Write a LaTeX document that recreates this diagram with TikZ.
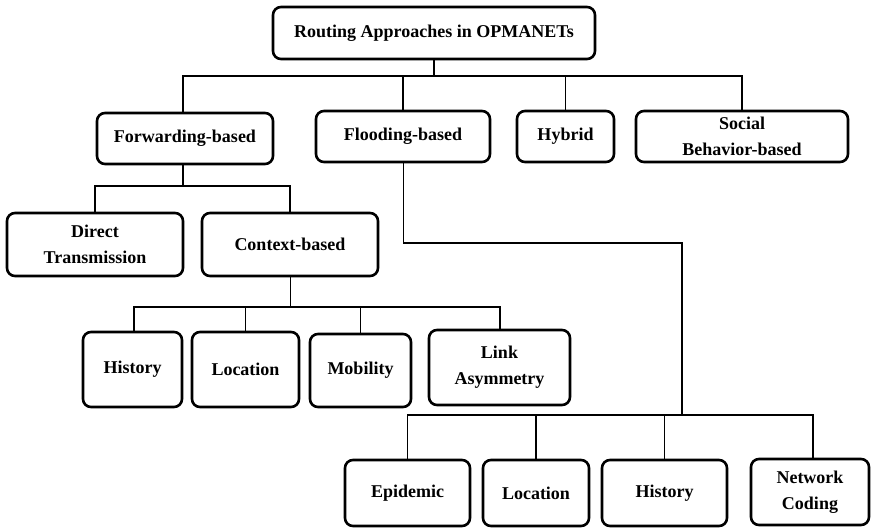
\documentclass[tikz,border=0pt]{standalone}
\usepackage{fontspec}
\setmainfont{Liberation Serif}
\begin{document}
\begin{tikzpicture}[x=1pt,y=-1pt,
  box/.style={draw, line width=2.6pt, rounded corners=8pt, align=center,
    inner sep=0pt, font=\bfseries\fontsize{18}{26}\selectfont},
  link/.style={line width=1.8pt},
  thinlink/.style={line width=1pt}]
\useasboundingbox (0,0) rectangle (871,528);

% level 0
\node[box, minimum width=322pt, minimum height=52pt] (root) at (434,33) {Routing Approaches in OPMANETs};

% level 1
\node[box, minimum width=176pt, minimum height=51pt] (fwd)    at (185,138.5) {Forwarding-based};
\node[box, minimum width=174pt, minimum height=51pt] (flood)  at (403,136.5) {Flooding-based};
\node[box, minimum width=97pt,  minimum height=51pt] (hybrid) at (565.5,136.5) {Hybrid};
\node[box, minimum width=212pt, minimum height=51pt] (social) at (742,136.5) {Social\\Behavior-based};

% forwarding children
\node[box, minimum width=176pt, minimum height=63pt] (direct)  at (95,244.5) {Direct\\Transmission};
\node[box, minimum width=176pt, minimum height=63pt] (context) at (290,244.5) {Context-based};

% context children
\node[box, minimum width=99pt,  minimum height=75pt] (hist1) at (132.5,369.5) {History};
\node[box, minimum width=107pt, minimum height=75pt] (loc1)  at (245.5,369.5) {Location};
\node[box, minimum width=101pt, minimum height=73pt] (mob)   at (360.5,370.5) {Mobility};
\node[box, minimum width=141pt, minimum height=75pt] (lasym) at (499.5,367.5) {Link\\Asymmetry};

% flooding children
\node[box, minimum width=125pt, minimum height=66pt] (epi)   at (407.5,493) {Epidemic};
\node[box, minimum width=106pt, minimum height=66pt] (loc2)  at (536,493) {Location};
\node[box, minimum width=125pt, minimum height=66pt] (hist2) at (664.5,493) {History};
\node[box, minimum width=118pt, minimum height=66pt] (net)   at (810,492) {Network\\Coding};

% junction levels
\coordinate (bar0) at (0,76);
\coordinate (bar1) at (0,186);
\coordinate (bar2) at (0,307);
\coordinate (bend) at (682,243);
\coordinate (bar3) at (0,415);

% root -> level 1
\draw[link] (root.south) -- (root.south |- bar0);
\draw[link] (183,0 |- fwd.north) -- (183,76) -- (social.north |- bar0) -- (social.north);
\draw[link] (flood.north) -- (flood.north |- bar0);
\draw[link] (hybrid.north) -- (hybrid.north |- bar0);

% forwarding -> children
\draw[link] (183,0 |- fwd.south) -- (183,186);
\draw[link] (direct.north) -- (direct.north |- bar1) -- (context.north |- bar1) -- (context.north);

% context -> children
\draw[thinlink] (context.south) -- (context.south |- bar2);
\draw[link] (134,0 |- hist1.north) -- (134,307) -- (500,307) -- (500,0 |- lasym.north);
\draw[link] (loc1.north) -- (loc1.north |- bar2);
\draw[thinlink] (mob.north) -- (mob.north |- bar2);

% flooding -> children
\draw[thinlink] (flood.south) -- (flood.south |- bend);
\draw[link] (flood.south |- bend) -- (bend) -- (bend |- bar3);
\draw[link] (epi.north) -- (epi.north |- bar3) -- (813,415) -- (813,0 |- net.north);
\draw[link] (loc2.north) -- (loc2.north |- bar3);
\draw[link] (hist2.north) -- (hist2.north |- bar3);
\end{tikzpicture}
\end{document}
